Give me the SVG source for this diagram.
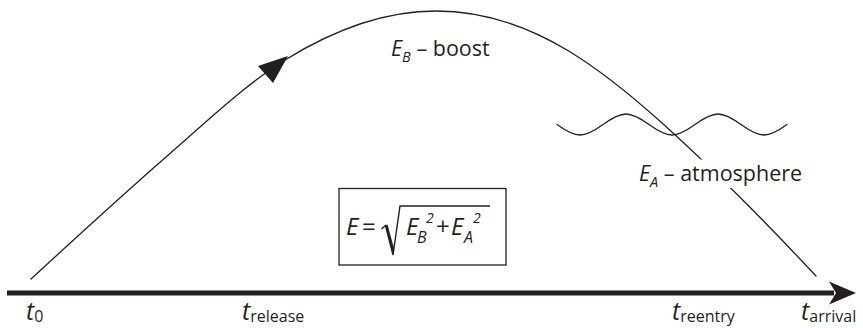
<svg xmlns="http://www.w3.org/2000/svg" width="863" height="328" viewBox="0 0 863 328">
<style>
.ink{fill:#231f20}
.ln{fill:none;stroke:#231f20;stroke-width:1.3;stroke-linecap:round;stroke-linejoin:round}
text{font-family:"Open Sans","Noto Sans","Liberation Sans",sans-serif;fill:#231f20}
.it{font-style:italic}
.t{font-size:25px;font-style:italic}
.sub{font-size:16px}
.lab{font-size:21.5px}
.lsub{font-size:14.5px;font-style:italic}
.f{font-size:24px}
.fs{font-size:16px;font-style:italic}
.fp{font-size:14px;font-style:italic}
</style>
<defs>
<mask id="gap" maskUnits="userSpaceOnUse" x="0" y="0" width="863" height="328">
<rect x="0" y="0" width="863" height="328" fill="#fff"/>
<rect x="690" y="159.5" width="55" height="28.5" fill="#000"/>
</mask>
</defs>
<g id="connectors">
<path id="trajectory" class="ln" mask="url(#gap)" d="M31,279 C76,237.6 121,196.2 166,157 C205.7,122.5 245.3,84.6 285,60 C335.3,28.8 385.7,11 436,11 C479.7,11 523.3,23.8 567,50 C598.7,69 630.3,94.5 662,123 C713.3,169.2 764.7,221.1 816,276"/>
<path id="trajectory-arrow" class="ink" d="M288,56 L258,66 L273,83 Z"/>
</g>
<g id="time-axis">
<line x1="7" y1="293" x2="834" y2="293" stroke="#231f20" stroke-width="5"/>
<path class="ink" d="M856,293 L829,281.5 L836,293 L829,304.5 Z"/>
</g>
<g id="atmosphere-wave">
<path class="ln" d="M557,124.5 C564.67,130 572.33,135 580,135 S595.33,130 603,124.5 S618.33,114 626,114 S641.33,119 649,124.5 S664.33,135 672,135 S687.33,130 695,124.5 S710.33,114 718,114 S733.33,119 741,124.5 S756.33,135 764,135 S779.33,130 787,124.5"/>
</g>
<g id="label-t0"><text x="26" y="320"><tspan class="t">t</tspan><tspan class="sub" dy="1.5">0</tspan></text></g>
<g id="label-trelease"><text x="242" y="320"><tspan class="t">t</tspan><tspan class="sub" dy="1.5">release</tspan></text></g>
<g id="label-treentry"><text x="672" y="320"><tspan class="t">t</tspan><tspan class="sub" dy="1.5">reentry</tspan></text></g>
<g id="label-tarrival"><text x="801" y="320"><tspan class="t">t</tspan><tspan class="sub" dy="1.5">arrival</tspan></text></g>
<g id="label-boost"><text x="391" y="56"><tspan class="lab it">E</tspan><tspan class="lsub" dy="6">B</tspan><tspan class="lab" dy="-6"> – boost</tspan></text></g>
<g id="label-atmosphere"><text x="639" y="181"><tspan class="lab it">E</tspan><tspan class="lsub" dy="6">A</tspan><tspan class="lab" dy="-6"> – atmosphere</tspan></text></g>
<g id="formula">
<rect x="339" y="188.5" width="167" height="76.5" fill="none" stroke="#231f20" stroke-width="1.3"/>
<text x="346" y="235" class="f it">E</text>
<text x="362" y="235" class="f">=</text>
<path fill="none" stroke="#231f20" stroke-width="1.4" stroke-linejoin="miter" d="M381.5,229 L385.5,225.5 L393,255 L400,206 L490,206"/>
<path class="ink" d="M385.5,225.5 L387.5,224.5 L394.2,249 L393,255 Z"/>
<text x="406" y="235" class="f it">E</text>
<text x="417" y="243" class="fs">B</text>
<text x="426" y="223" class="fp">2</text>
<text x="436" y="235" class="f">+</text>
<text x="451" y="235" class="f it">E</text>
<text x="464" y="243" class="fs">A</text>
<text x="473" y="223" class="fp">2</text>
</g>
</svg>
